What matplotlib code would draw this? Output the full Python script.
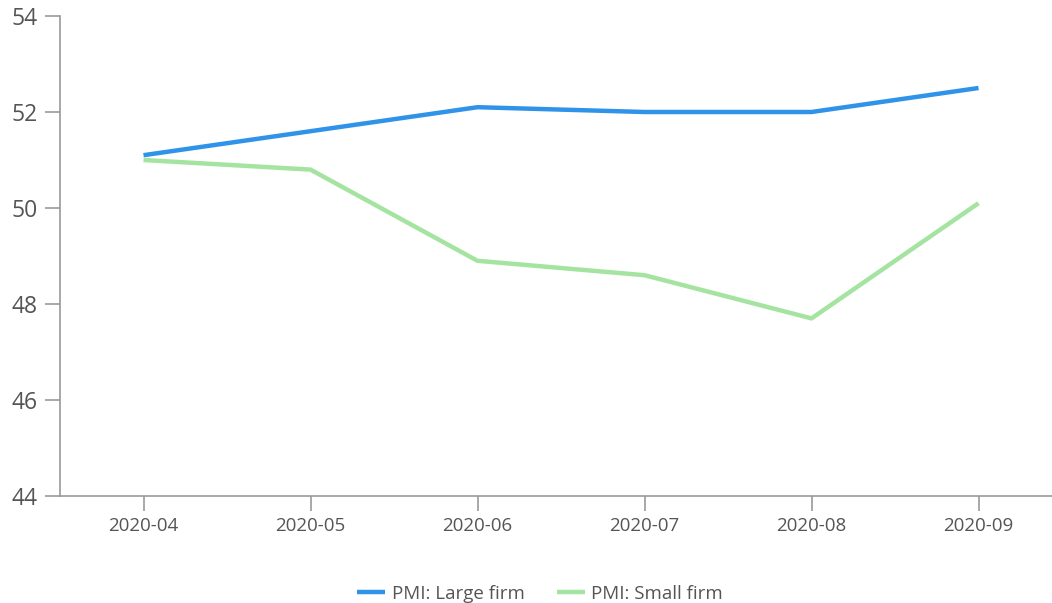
import matplotlib.pyplot as plt

months = ["2020-04", "2020-05", "2020-06", "2020-07", "2020-08", "2020-09"]
pmi_large = [51.1, 51.6, 52.1, 52.0, 52.0, 52.5]
pmi_small = [51.0, 50.8, 48.9, 48.6, 47.7, 50.1]
y_ticks = [44, 46, 48, 50, 52, 54]

plt.rcParams['font.family'] = ['Open Sans', 'DejaVu Sans']

W, H = 1052, 603
fig = plt.figure(figsize=(W / 100, H / 100), dpi=100)
ax = fig.add_axes([60 / W, 1 - 496 / H, (W - 60) / W, 480 / H])

x = list(range(len(months)))
ax.plot(x, pmi_large, color='#2f93e9', lw=3.2, label='PMI: Large firm', solid_capstyle='butt')
ax.plot(x, pmi_small, color='#a4e4a0', lw=3.2, label='PMI: Small firm', solid_capstyle='butt')

ax.set_xlim(-0.5, 5.44)
ax.set_ylim(44, 54)
ax.set_xticks(x)
ax.set_xticklabels(months)
ax.set_yticks(y_ticks)

for side in ['top', 'right']:
    ax.spines[side].set_visible(False)
for side in ['left', 'bottom']:
    ax.spines[side].set_color('#9a9a9a')
    ax.spines[side].set_linewidth(1.2)

ax.tick_params(axis='y', length=11, width=1.2, color='#9a9a9a', labelsize=16.5,
               labelcolor='#555555', pad=5)
ax.tick_params(axis='x', length=11, width=1.2, color='#9a9a9a', labelsize=13.5,
               labelcolor='#555555', pad=4)

ax.legend(loc='upper center', bbox_to_anchor=(0.484, -0.15), ncol=2, frameon=False,
          fontsize=13.5, labelcolor='#555555', handlelength=1.5, columnspacing=1.7,
          handletextpad=0.35)

fig.savefig('out.png', dpi=100)
